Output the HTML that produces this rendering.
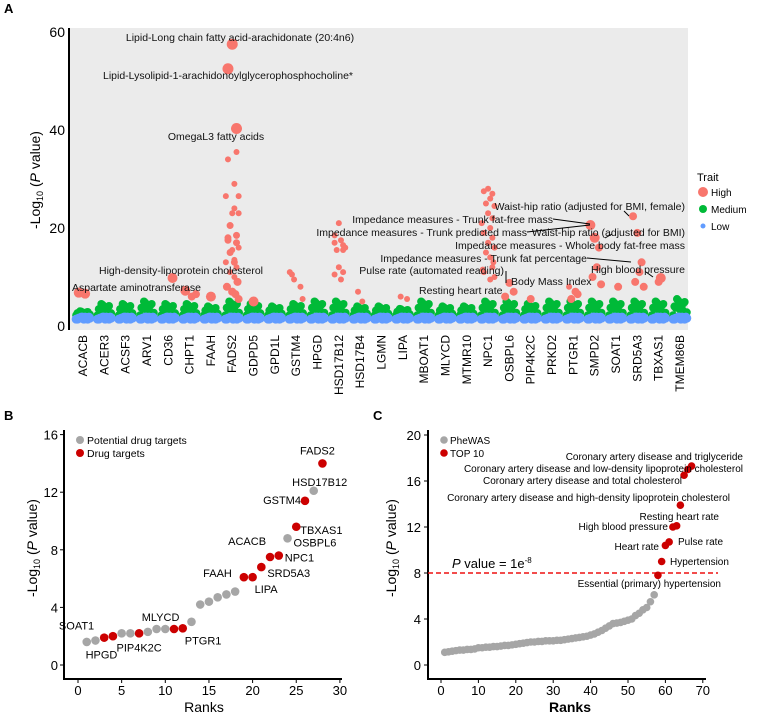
<!DOCTYPE html>
<html><head><meta charset="utf-8"><style>
body{margin:0;background:#fff;}
svg text{font-family:"Liberation Sans",Arial,sans-serif;}
</style></head><body>
<svg id="fig" width="762" height="721" viewBox="0 0 762 721" xmlns="http://www.w3.org/2000/svg">
<text x="4" y="13" font-size="13" font-weight="bold">A</text>
<rect x="70" y="28" width="618" height="302" fill="#ebebeb"/>
<g id="pa"></g>
<line x1="69" y1="28" x2="69" y2="330" stroke="#000" stroke-width="2"/>
<text transform="translate(40,180) rotate(-90)" text-anchor="middle" font-size="14">-Log<tspan font-size="9" dy="3">10</tspan><tspan dy="-3"> (</tspan><tspan font-style="italic">P</tspan> value)</text>
<g>
<text x="697" y="181" font-size="11">Trait</text>
<circle cx="703" cy="192" r="5" fill="#f8766d"/><text x="711" y="196" font-size="10">High</text>
<circle cx="703" cy="209" r="4" fill="#00ba38"/><text x="711" y="213" font-size="10">Medium</text>
<circle cx="703" cy="226" r="2.5" fill="#619cff"/><text x="711" y="230" font-size="10">Low</text>
</g>
<g id="pa2"></g>
<g font-size="10.5" fill="#111">
<text x="240" y="41" text-anchor="middle">Lipid-Long chain fatty acid-arachidonate (20:4n6)</text>
<text x="228" y="79" text-anchor="middle">Lipid-Lysolipid-1-arachidonoylglycerophosphocholine*</text>
<text x="216" y="140" text-anchor="middle">OmegaL3 fatty acids</text>
<text x="181" y="274" text-anchor="middle">High-density-lipoprotein cholesterol</text>
<text x="72" y="291">Aspartate aminotransferase</text>
<text x="685" y="210" text-anchor="end">Waist-hip ratio (adjusted for BMI, female)</text>
<text x="553" y="223" text-anchor="end">Impedance measures - Trunk fat-free mass</text>
<text x="527" y="236" text-anchor="end">Impedance measures - Trunk predicted mass</text>
<text x="685" y="236" text-anchor="end">Waist-hip ratio (adjusted for BMI)</text>
<text x="685" y="249" text-anchor="end">Impedance measures - Whole body fat-free mass</text>
<text x="587" y="262" text-anchor="end">Impedance measures - Trunk fat percentage</text>
<text x="504" y="274" text-anchor="end">Pulse rate (automated reading)</text>
<text x="685" y="273" text-anchor="end">High blood pressure</text>
<text x="511" y="285">Body Mass Index</text>
<text x="419" y="294">Resting heart rate</text>
<g stroke="#000" stroke-width="1">
<line x1="553" y1="219" x2="590" y2="224"/><line x1="527" y1="232" x2="590" y2="225"/>
<line x1="587" y1="258" x2="631" y2="262"/><line x1="624" y1="211" x2="629" y2="216"/>
<line x1="612" y1="234" x2="605" y2="238"/><line x1="646" y1="272" x2="653" y2="277"/>
<line x1="506" y1="271" x2="506" y2="283"/>
</g></g>
<text x="4" y="420" font-size="13" font-weight="bold">B</text>
<g id="pb"></g>
<text x="373" y="420" font-size="13" font-weight="bold">C</text>
<g id="pc"></g>
</svg>
<script>
const NS="http://www.w3.org/2000/svg";
const genes=["ACACB","ACER3","ACSF3","ARV1","CD36","CHPT1","FAAH","FADS2","GDPD5","GPD1L","GSTM4","HPGD","HSD17B12","HSD17B4","LGMN","LIPA","MBOAT1","MLYCD","MTMR10","NPC1","OSBPL6","PIP4K2C","PRKD2","PTGR1","SMPD2","SOAT1","SRD5A3","TBXAS1","TMEM86B"];
const greenMax=[3,4.5,4.5,5,4.5,4.5,4,5,4.5,4,4.5,5,5,4,4,3.5,5,4,4,5,5,4.5,5,5,5,5,5,5,5.5];
// red points: gene index, jitter (category units), value, size
const redGene=[0,0,4,5,5,5,6,7,7,7,7,7,7,7,7,7,7,7,7,7,7,7,7,7,7,7,7,7,7,7,7,7,8,10,10,10,10,10,12,12,12,12,12,12,12,12,12,12,13,13,15,15,19,19,19,19,19,19,19,19,19,19,19,19,19,19,19,19,19,19,19,20,20,20,21,23,23,23,23,24,24,24,24,24,24,25,26,26,26,26,26,26,27,27,7,7,7,7,7,7,7,7,12,12,19,19,19];
const redJit=[-0.2,0.1,0.2,-0.2,0.1,0.3,0,0,-0.2,0.2,0.2,-0.2,0.1,0.3,-0.3,0.1,0,0.3,-0.1,0.2,-0.2,0.3,0,0.1,-0.3,0.2,-0.1,0.1,0.2,-0.2,0,0.3,0,-0.3,-0.2,-0.1,0.2,0.3,0,-0.2,0.2,0.1,-0.1,0.3,0,0.2,-0.2,0.1,-0.1,0.1,-0.1,0.2,0,-0.2,0.2,0.1,-0.1,0.3,0,0.2,-0.3,0.1,-0.2,0.2,0,0.3,-0.1,0.1,0.2,-0.2,0.3,0,0.2,-0.2,0,-0.2,0.2,0.1,-0.1,-0.2,0,0.2,0.1,-0.1,0.3,0.1,-0.2,0,0.2,0.1,-0.1,0.3,0.1,0,-0.2,0.2,-0.1,0.1,0.25,-0.25,0,0.15,0.2,-0.2,0.25,-0.25,0.1];
const redVal=[6.8,6.6,9.8,7.2,6,6.5,6,57.5,52.5,40.3,35.5,34,29,26.5,26.5,24,23,23,20.5,18.5,17.5,16,15.5,13.5,13,12,11,10,9,8,7,5.5,5,11,10.5,9.5,8,5.5,21,18.5,16.5,17.5,15.5,16,12,11,10.5,9.5,7,5,6,5.5,28,27.5,27,26,25,24.5,23,22,21,20,19,18,17,16,15,14,12,11,10,8.8,7,6,5.5,8,6.5,7,5.5,20.6,18,16,12,10,8.5,8,22.4,19,13,11,9,8,9.8,9,18,17,15,13,9,8,7,6.5,15.5,17,13,11.5,9.5];
const redSize=[5,5,5,5,4,4,5,5.5,5.5,5.5,3,3,3,3,3,3,3,3,3.5,3.5,3.5,3,3,3,3,3,3,3,3,3,4,4,5,3,3,3,3,3,3,3,3,3,3,3,3,3,3,3,3,3,3,3,3,3,3,3,3,3,3,3,3,3,3,3,3,3,3,3,3,3,3,4,4,4,4,3,4,4,4,5,5,4,4,4,4,4,4,4,4,4,4,4,5,4,3.5,3.5,3.5,3.5,4,4,4,4,3,3,3,3,3];
const blueVal=1.6, jit=[-0.32,-0.2,-0.08,0.04,0.16,0.28,-0.26,-0.14,0.1,0.22,0.32,-0.02];

function mk(p,tag,a){const e=document.createElementNS(NS,tag);for(const k in a)e.setAttribute(k,a[k]);p.appendChild(e);return e;}
// Panel A
const pa=document.getElementById('pa');
const xA=i=>83+i*21.32, yA=v=>326-v*4.9;
[0,20,40,60].forEach(t=>{const tx=mk(pa,'text',{x:65,y:yA(t)+5,'text-anchor':'end','font-size':14});tx.textContent=t;

});
genes.forEach((g,i)=>{
  for(let k=0;k<12;k++){const v=2.2+(greenMax[i]-2.2)*((k*5)%12)/11;const c=mk(pa,'circle',{cx:xA(i+jit[k]),cy:yA(v),r:4,fill:'#00ba38'});
  
  }
  for(let k=0;k<12;k++){const c=mk(pa,'circle',{cx:xA(i+jit[k]),cy:yA(blueVal+(k%3)*0.2-0.2),r:4.5,fill:'#619cff'});
  
  }
  const t=mk(pa,'text',{transform:`translate(${xA(i)+4},335) rotate(-90)`,'text-anchor':'end','font-size':12});t.textContent=g;
  
  
});
redGene.forEach((g,k)=>{const c=mk(pa,'circle',{cx:xA(g+redJit[k]),cy:yA(redVal[k]),r:redSize[k],fill:'#f8766d'});

});

// Panel B
const bRank=[1,2,3,4,5,6,7,8,9,10,11,12,13,14,15,16,17,18,19,20,21,22,23,24,25,26,27,28];
const bVal=[1.6,1.7,1.9,2.0,2.2,2.2,2.2,2.3,2.5,2.5,2.5,2.55,3.0,4.2,4.4,4.7,4.9,5.1,6.1,6.1,6.8,7.5,7.6,8.8,9.6,11.4,12.1,14.0];
const bDrug=[0,0,1,1,0,0,1,0,0,0,1,1,0,0,0,0,0,0,1,1,1,1,1,0,1,1,0,1];
const bLabels=[["SOAT1",3,"end",-10,-12],["HPGD",2,"middle",6,14],["PIP4K2C",7,"middle",0,14],["MLYCD",9,"middle",4,-12],["PTGR1",12,"start",2,12],["FAAH",19,"end",-12,-4],["LIPA",20,"start",2,12],["SRD5A3",21,"start",6,6],["ACACB",22,"end",-4,-16],["NPC1",23,"start",6,2],["OSBPL6",24,"start",6,4],["TBXAS1",25,"start",4,3],["GSTM4",26,"end",-4,-1],["HSD17B12",27,"middle",6,-9],["FADS2",28,"middle",-5,-13]];
const pb=document.getElementById('pb');
const xB=v=>78+v*8.73, yB=v=>665-v*14.4;
mk(pb,'line',{x1:64,y1:430,x2:64,y2:679,stroke:'#000','stroke-width':2});
mk(pb,'line',{x1:63,y1:679,x2:342,y2:679,stroke:'#000','stroke-width':2});
[0,4,8,12,16].forEach(t=>{mk(pb,'line',{x1:60,x2:64,y1:yB(t),y2:yB(t),stroke:'#000'});const tx=mk(pb,'text',{x:58,y:yB(t)+5,'text-anchor':'end','font-size':13});tx.textContent=t;

});
[0,5,10,15,20,25,30].forEach(t=>{mk(pb,'line',{x1:xB(t),x2:xB(t),y1:679,y2:683,stroke:'#000'});const tx=mk(pb,'text',{x:xB(t),y:695,'text-anchor':'middle','font-size':13});tx.textContent=t;

});
{const t=mk(pb,'text',{x:204,y:712,'text-anchor':'middle','font-size':14});t.textContent='Ranks';

}
{const t=mk(pb,'text',{transform:'translate(37,548) rotate(-90)','text-anchor':'middle','font-size':14});t.innerHTML='-Log<tspan font-size="9" dy="3">10</tspan><tspan dy="-3"> (</tspan><tspan font-style="italic">P</tspan> value)';

}
bRank.forEach((r,k)=>{const c=mk(pb,'circle',{cx:xB(r),cy:yB(bVal[k]),r:4.3,fill:bDrug[k]?'#cc0000':'#a6a6a6'});

});
bLabels.forEach(l=>{const r=l[1];const t=mk(pb,'text',{x:xB(r)+l[3],y:yB(bVal[r-1])+l[4]+4,'text-anchor':l[2],'font-size':11});t.textContent=l[0];

});
mk(pb,'circle',{cx:80,cy:440,r:4,fill:'#a6a6a6'});mk(pb,'circle',{cx:80,cy:453,r:4,fill:'#cc0000'});
{const t=mk(pb,'text',{x:87,y:444,'font-size':10.5});t.textContent='Potential drug targets';

}
{const t=mk(pb,'text',{x:87,y:457,'font-size':10.5});t.textContent='Drug targets';

}

// Panel C
const cGray=[1.1,1.15,1.2,1.25,1.3,1.3,1.35,1.35,1.4,1.5,1.5,1.55,1.55,1.6,1.6,1.65,1.7,1.7,1.75,1.8,1.85,1.9,1.95,2.0,2.0,2.05,2.05,2.1,2.1,2.1,2.15,2.15,2.2,2.25,2.3,2.35,2.4,2.45,2.5,2.6,2.7,2.85,3.0,3.2,3.4,3.6,3.65,3.7,3.8,3.9,4.0,4.3,4.5,4.8,5.0,5.5,6.1];
const cRedRank=[58,59,60,61,62,63,64,65,66,67];
const cRedVal=[7.8,9.0,10.4,10.7,12.0,12.1,13.9,16.5,17.0,17.3];
const pc=document.getElementById('pc');
const xC=v=>441+v*3.74, yC=v=>665-v*11.5;
mk(pc,'line',{x1:428,y1:430,x2:428,y2:679,stroke:'#000','stroke-width':2});
mk(pc,'line',{x1:427,y1:679,x2:706,y2:679,stroke:'#000','stroke-width':2});
[0,4,8,12,16,20].forEach(t=>{mk(pc,'line',{x1:424,x2:428,y1:yC(t),y2:yC(t),stroke:'#000'});const tx=mk(pc,'text',{x:421,y:yC(t)+5,'text-anchor':'end','font-size':13});tx.textContent=t;

});
[0,10,20,30,40,50,60,70].forEach(t=>{mk(pc,'line',{x1:xC(t),x2:xC(t),y1:679,y2:683,stroke:'#000'});const tx=mk(pc,'text',{x:xC(t),y:695,'text-anchor':'middle','font-size':13});tx.textContent=t;

});
{const t=mk(pc,'text',{x:570,y:712,'text-anchor':'middle','font-size':14,'font-weight':'bold'});t.textContent='Ranks';

}
{const t=mk(pc,'text',{transform:'translate(396,548) rotate(-90)','text-anchor':'middle','font-size':14});t.innerHTML='-Log<tspan font-size="9" dy="3">10</tspan><tspan dy="-3"> (</tspan><tspan font-style="italic">P</tspan> value)';

}
const th=mk(pc,'line',{x1:428,x2:718,y1:yC(8),y2:yC(8),stroke:'#ee1111','stroke-width':1.5,'stroke-dasharray':'5,3'});


{const t=mk(pc,'text',{x:452,y:568,'font-size':13});t.innerHTML='<tspan font-style="italic">P</tspan> value = 1e<tspan font-size="8" dy="-5">-8</tspan>';

}
cGray.forEach((v,k)=>{const c=mk(pc,'circle',{cx:xC(k+1),cy:yC(v),r:3.8,fill:'#a6a6a6'});

});
cRedRank.forEach((r,k)=>{const c=mk(pc,'circle',{cx:xC(r),cy:yC(cRedVal[k]),r:3.8,fill:'#cc0000'});

});
const cAnn=[["Coronary artery disease and triglyceride",743,460,"end"],["Coronary artery disease and low-density lipoprotein cholesterol",743,472,"end"],["Coronary artery disease and total cholesterol",682,484,"end"],["Coronary artery disease and high-density lipoprotein cholesterol",730,501,"end"],["Resting heart rate",719,520,"end"],["High blood pressure",668,530,"end"],["Pulse rate",678,545,"start"],["Heart rate",659,550,"end"],["Hypertension",670,565,"start"],["Essential (primary) hypertension",721,587,"end"]];
cAnn.forEach(a=>{const t=mk(pc,'text',{x:a[1],y:a[2],'text-anchor':a[3],'font-size':10});t.textContent=a[0];

});
mk(pc,'circle',{cx:444,cy:440,r:3.8,fill:'#a6a6a6'});mk(pc,'circle',{cx:444,cy:453,r:3.8,fill:'#cc0000'});
{const t=mk(pc,'text',{x:450,y:444,'font-size':10});t.textContent='PheWAS';

}
{const t=mk(pc,'text',{x:450,y:457,'font-size':10});t.textContent='TOP 10';

}
</script>
</body></html>
